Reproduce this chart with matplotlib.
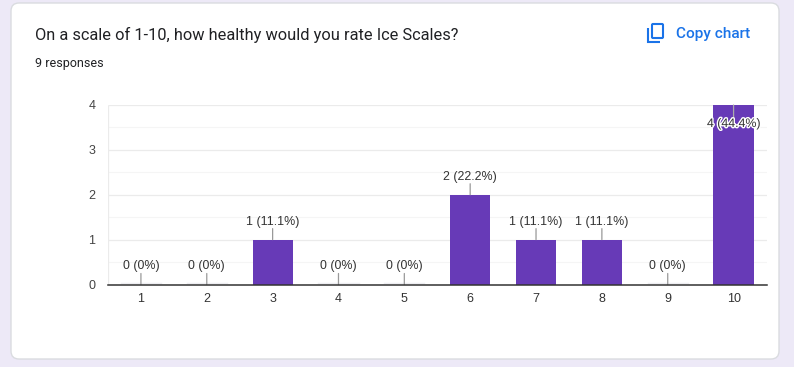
import matplotlib
matplotlib.use('Agg')
import matplotlib.pyplot as plt
import matplotlib.patheffects as pe
from matplotlib.patches import FancyBboxPatch

categories = ['1', '2', '3', '4', '5', '6', '7', '8', '9', '10']
counts = [0, 0, 1, 0, 0, 2, 1, 1, 0, 4]
labels = ['0 (0%)', '0 (0%)', '1 (11.1%)', '0 (0%)', '0 (0%)', '2 (22.2%)',
          '1 (11.1%)', '1 (11.1%)', '0 (0%)', '4 (44.4%)']
y_ticks = [0, 1, 2, 3, 4]
y_minor = [0.5, 1.5, 2.5, 3.5]

W, H = 794, 367
PURPLE = '#673ab7'

fig = plt.figure(figsize=(W / 100, H / 100), dpi=100, facecolor='#ede9f7')

# page layer in pixels, y going down
bg = fig.add_axes([0, 0, 1, 1])
bg.set_xlim(0, W)
bg.set_ylim(H, 0)
bg.axis('off')
bg.add_patch(FancyBboxPatch((11, 3), 768, 356, boxstyle='round,pad=0,rounding_size=8',
                            fc='white', ec='#dadce0', lw=1))
bg.text(35, 34.5, 'On a scale of 1-10, how healthy would you rate Ice Scales?',
        family='Roboto', fontsize=11.8, color='#202124', va='center')
bg.text(35, 63, '9 responses', family='Roboto', fontsize=9, color='#202124', va='center')
bg.text(676, 34, 'Copy chart', family='Roboto', fontsize=11.1, weight='medium',
        color='#1a73e8', va='center')

# copy icon
bg.add_patch(FancyBboxPatch((652, 24), 11, 14, boxstyle='round,pad=0,rounding_size=1',
                            fc='none', ec='#1a73e8', lw=1.5))
bg.plot([648, 648, 660], [27.5, 42, 42], color='#1a73e8', lw=1.5,
        solid_capstyle='butt', solid_joinstyle='miter')

ax = fig.add_axes([108 / W, 1 - 284.5 / H, (766.5 - 108) / W, (284.5 - 105) / H])
ax.patch.set_alpha(0)
x = list(range(len(categories)))
ax.set_xlim(-0.5, 9.5)
ax.set_ylim(0, 4)

for s in ['top', 'right', 'left']:
    ax.spines[s].set_visible(False)
ax.spines['bottom'].set_color('#333333')
ax.spines['bottom'].set_linewidth(1.1)
ax.spines['bottom'].set_zorder(6)

ax.hlines(y_minor, -0.5, 9.5, color='#f5f5f5', lw=0.8, zorder=0)
ax.hlines(y_ticks[1:], -0.5, 9.5, color='#ebebeb', lw=0.9, zorder=0)
ax.vlines(-0.5, 0, 4, color='#ebebeb', lw=0.9, zorder=0)

ax.bar(x, counts, width=0.61, color=PURPLE, zorder=2)
# empty categories still show a faint baseline
for i, c in zip(x, counts):
    if c == 0:
        ax.plot([i - 0.305, i + 0.305], [0.03, 0.03], color='#eeeef2', lw=1, zorder=1)

for i, c, lab in zip(x, counts, labels):
    if c == 4:
        # no room above the top bar, so the label sits below the axes top
        ax.annotate('', xy=(i, c), xytext=(0, -13), textcoords='offset pixels',
                    arrowprops=dict(arrowstyle='-', color='#aaaaaa', lw=0.9, shrinkA=0, shrinkB=0),
                    zorder=3, annotation_clip=False)
        t = ax.annotate(lab, xy=(i, c), xytext=(0, -19), textcoords='offset pixels',
                        ha='center', va='center', family='Liberation Sans', fontsize=8.9,
                        color='#333333', zorder=4)
        t.set_path_effects([pe.withStroke(linewidth=2, foreground='white')])
    else:
        ax.annotate('', xy=(i, c), xytext=(0, 11), textcoords='offset pixels',
                    arrowprops=dict(arrowstyle='-', color='#999999', lw=0.9, shrinkA=0, shrinkB=0),
                    zorder=3)
        ax.annotate(lab, xy=(i, c), xytext=(0, 18), textcoords='offset pixels',
                    ha='center', va='center', family='Liberation Sans', fontsize=8.9,
                    color='#333333', zorder=4)

ax.set_xticks(x)
ax.set_xticklabels(categories, family='Liberation Sans', fontsize=9, color='#333333')
ax.set_yticks(y_ticks)
ax.set_yticklabels([str(v) for v in y_ticks], family='Liberation Sans', fontsize=9, color='#444444')
ax.tick_params(axis='both', length=0)
ax.tick_params(axis='x', pad=6)
ax.tick_params(axis='y', pad=9)

fig.savefig('out.png', dpi=100, facecolor=fig.get_facecolor())
